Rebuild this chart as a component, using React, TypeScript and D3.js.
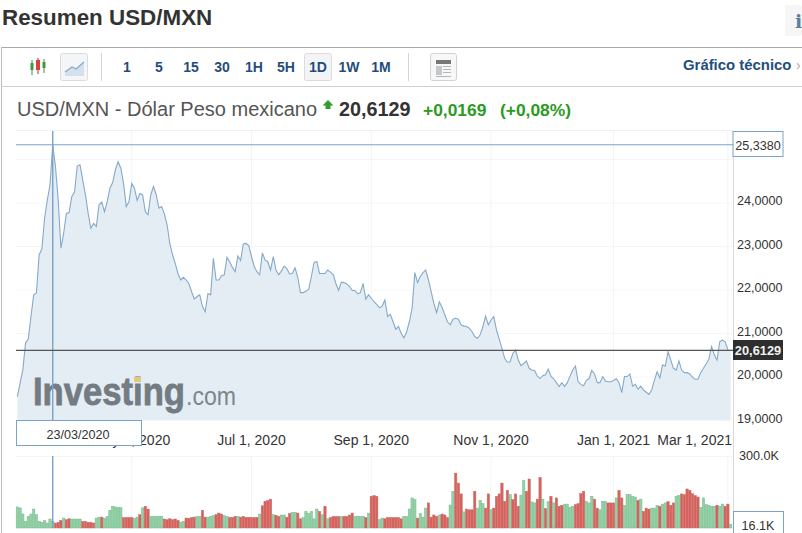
import * as d3 from 'd3'

const closes = [
  19.55, 19.86, 20.16, 20.78, 20.87, 21.39, 21.89, 21.93, 22.81, 22.94,
  23.65, 24.07, 24.42, 25.338, 24.84, 24.07, 22.96, 23.3, 23.76, 23.78,
  24.15, 24.25, 24.85, 24.88, 24.53, 24.19, 23.76, 23.42, 23.53, 23.46,
  23.96, 24.02, 23.8, 24.03, 24.34, 24.47, 24.76, 24.95, 24.8, 24.45,
  23.92, 24.03, 24.45, 24.34, 24.06, 24.22, 24.19, 23.8, 23.73, 24.19,
  24.38, 24.19, 23.88, 23.92, 23.75, 23.5, 23.07, 22.81, 22.61, 22.38,
  22.23, 22.29, 22.23, 22.15, 21.96, 21.79, 21.85, 21.89, 21.62, 21.5,
  21.92, 21.89, 22.73, 22.23, 22.23, 22.33, 22.35, 22.75, 22.65, 22.52,
  22.42, 22.78, 22.68, 23.06, 23.07, 23.02, 22.77, 22.54, 22.42, 22.35,
  22.85, 22.69, 22.65, 22.46, 22.77, 22.46, 22.35, 22.44, 22.55, 22.49,
  22.37, 22.38, 22.51, 22.29, 21.94, 21.94, 21.97, 22.02, 22.31, 22.64,
  22.65, 22.38, 22.38, 22.38, 22.46, 22.41, 22.36, 22.15, 21.99, 22.18,
  22.17, 22.14, 22.08, 21.99, 21.99, 21.91, 21.94, 22.15, 21.79, 21.89,
  21.81, 21.73, 21.67, 21.59, 21.63, 21.77, 21.39, 21.44, 21.27, 21.1,
  21.16, 21.0, 20.9, 21.04, 21.27, 21.58, 22.4, 22.17, 22.31, 22.4,
  22.46, 22.23, 21.96, 21.69, 21.48, 21.73, 21.6, 21.43, 21.27, 21.2,
  21.33, 21.35, 21.33, 21.2, 21.17, 21.16, 21.12, 21.04, 20.93, 20.89,
  20.97, 21.16, 21.4, 21.2, 21.31, 21.39, 21.08, 20.87, 20.66, 20.43,
  20.34, 20.35, 20.54, 20.62, 20.39, 20.26, 20.31, 20.37, 20.2, 20.16,
  20.15, 20.02, 19.97, 20.03, 20.05, 20.18, 20.02, 19.96, 19.87, 19.78,
  19.87, 19.78, 19.87, 20.02, 20.16, 20.25, 19.89, 19.83, 19.8, 19.93,
  19.96, 20.15, 20.07, 19.87, 19.87, 20.01, 19.91, 19.89, 19.89, 19.92,
  19.96, 19.87, 19.64, 20.01, 20.01, 20.07, 19.79, 19.83, 19.72, 19.79,
  19.7, 19.65, 19.6, 19.7, 19.93, 20.12, 19.98, 20.28, 20.25, 20.58,
  20.39, 20.2, 20.16, 20.37, 20.16, 20.1, 20.1, 20.07, 19.99, 19.95,
  19.95, 20.1, 20.2, 20.3, 20.41, 20.7, 20.51, 20.39, 20.81, 20.85,
  20.81, 20.62, 20.6129,
]

// thousands, positive = green day, negative = red day
const volumes = [
  89, 85, 59, 28, 49, 59, 80, 56, 28, 24,
  31, 21, 38, 28, -21, -24, -32, 42, -35, -39,
  38, 38, 38, 38, -27, -28, -24, -24, -21, 42,
  46, -46, 42, 49, 75, 92, 89, 86, 86, -44,
  -44, -44, -44, 41, 46, -56, 85, -92, -80, 49,
  49, 49, 49, 49, -38, -35, -39, -35, -38, -32,
  25, 28, -42, -41, -44, -46, 49, 49, -75, -46,
  46, 49, 52, -56, -63, -59, 52, 49, -44, -45,
  -49, 49, -46, -49, -45, -45, -45, -44, -45, 59,
  -94, -113, -116, -122, 56, -54, -49, 55, 55, -45,
  -61, 66, 66, -63, -39, 44, 70, 61, 70, 39,
  80, -70, 56, -92, 39, -44, -48, -48, -48, 48,
  -49, -49, -55, -63, 49, 49, 49, 49, -44, 63,
  -134, -137, -134, 35, 42, -39, -44, -44, -44, -44,
  -44, -39, 49, 48, 80, 127, 120, -42, 61, 46,
  84, -106, -46, -55, -49, 55, -59, -55, -44, 97,
  155, -232, -190, -144, 68, -80, -77, -77, -155, 84,
  117, 103, -84, -144, 77, -84, -134, -144, -190, -113,
  -159, 141, -120, -144, -92, 139, 201, -155, -207, 110,
  106, -122, -214, 122, -82, 111, -134, 106, -127, -92,
  -96, 101, 101, 87, 92, -99, -103, -145, -155, 113,
  106, 134, -122, -84, 77, 113, 113, -106, -106, -106,
  127, -159, -127, 96, 141, 141, 134, 131, -117, 122,
  -70, -84, -80, 84, 84, 96, -92, 101, 106, -111,
  -96, -106, 134, 137, -144, -141, -165, -159, -145, -137,
  -131, 87, 127, 99, 96, 92, 92, -96, 92, 101,
  -92, -101, 16.1,
]

const priceTicks = [19, 20, 21, 22, 23, 24]
const dateTickIndex = [42, 86, 130, 174, 219, 261]
const dateTickLabels = ['May 1, 2020', 'Jul 1, 2020', 'Sep 1, 2020', 'Nov 1, 2020', 'Jan 1, 2021', 'Mar 1, 2021']
const intervals = ['1', '5', '15', '30', '1H', '5H', '1D', '1W', '1M']
const intervalX = [127, 159, 191, 222, 254, 286, 318, 349, 381]
const crossIndex = 13
const crossDate = '23/03/2020'
const crossPrice = 25.338
const lastPrice = 20.6129

const FONT = 'Arial, "Liberation Sans", sans-serif'
const BLUE = '#1f4e7d'
const LINE = '#86a9c9'
const CROSS = '#7aa2cb'

const fmt4 = (v: number) => v.toFixed(4).replace('.', ',')

export default function App() {
  const x = d3
    .scaleBand<number>()
    .domain(d3.range(closes.length))
    .range([16, 732])
    .paddingInner(0.14)
    .paddingOuter(0.07)
  const cx = (i: number) => (x(i) ?? 0) + x.bandwidth() / 2

  const y = d3.scaleLinear().domain([19, 24]).range([420.5, 203])
  const yVol = d3.scaleLinear().domain([0, 300]).range([528, 457])

  const line = d3
    .line<number>()
    .x((_, i) => cx(i))
    .y((d) => y(d))
  const area = d3
    .area<number>()
    .x((_, i) => cx(i))
    .y0(y(19))
    .y1((d) => y(d))

  return (
    <svg
      width={802}
      height={533}
      style={{ position: 'absolute', left: 0, top: 0, background: '#fff' }}
      fontFamily={FONT}
    >
      {/* page title and info tab */}
      <text x={2} y={25} fontSize={22.4} fontWeight={700} fill="#333">
        Resumen USD/MXN
      </text>
      <rect x={785} y={5} width={17} height={31} rx={2} fill="#f6f6f6" />
      <text x={795} y={28} fontSize={19} fontWeight={700} fontFamily="DejaVu Serif, serif" fill="#5b7f9e">
        i
      </text>

      {/* panel frame */}
      <line x1={1} x2={802} y1={47.5} y2={47.5} stroke="#a9a9a9" />
      <line x1={1.5} x2={1.5} y1={47} y2={533} stroke="#bdbdbd" />
      <line x1={1} x2={802} y1={86.5} y2={86.5} stroke="#cfcfcf" />
      <line x1={101.5} x2={101.5} y1={53} y2={81} stroke="#d5d5d5" />
      <line x1={408.5} x2={408.5} y1={53} y2={81} stroke="#d5d5d5" />

      {/* candlestick icon */}
      <g>
        <line x1={32} x2={32} y1={60} y2={75} stroke="#3a8f3a" />
        <rect x={30.5} y={63} width={3} height={7} fill="#3c9c3c" />
        <line x1={38} x2={38} y1={58} y2={74} stroke="#a33" />
        <rect x={36} y={60} width={4} height={10} fill="#d84040" />
        <line x1={44} x2={44} y1={59} y2={73} stroke="#3a8f3a" />
        <rect x={42.5} y={62} width={3} height={6} fill="#3c9c3c" />
      </g>

      {/* line chart button */}
      <rect x={60.5} y={53.5} width={27} height={27} rx={2} fill="#f3f5f8" stroke="#dcdcdc" />
      <path d="M65 72 L72 67 L76 69 L84 62 L84 76 L65 76 Z" fill="#d5e0ec" />
      <path d="M65 72 L72 67 L76 69 L84 62" fill="none" stroke="#8aa9c6" strokeWidth={1.3} />

      {/* interval buttons */}
      <rect x={304.5} y={53.5} width={27} height={27} rx={2} fill="#f3f4f6" stroke="#dcdcdc" />
      {intervals.map((t, i) => (
        <text key={t} x={intervalX[i]} y={72} textAnchor="middle" fontSize={14} fontWeight={700} fill={BLUE}>
          {t}
        </text>
      ))}

      {/* news button */}
      <rect x={430.5} y={53.5} width={26} height={27} rx={2} fill="#f7f7f7" stroke="#d2d2d2" />
      <rect x={436} y={60} width={15} height={4} fill="#777" />
      <rect x={436} y={66} width={6} height={9} fill="#c3c8cc" />
      <path d="M443 66.5H451M443 69.5H451M443 72.5H451M436 76.5H451" stroke="#b5b5b5" />

      <text x={683} y={70} fontSize={14.9} fontWeight={700} fill={BLUE}>
        Gráfico técnico
      </text>
      <text x={796} y={70} fontSize={14} fill="#aaa">
        ›
      </text>

      {/* quote line */}
      <text x={17} y={116} fontSize={20} fill="#555">
        USD/MXN - Dólar Peso mexicano
      </text>
      <path d="M328 100 L333.5 105.5 L330.5 105.5 L330.5 109 L325.5 109 L325.5 105.5 L322.5 105.5 Z" fill="#2f9e2f" />
      <text x={339} y={116} fontSize={19.8} fontWeight={700} fill="#333">
        20,6129
      </text>
      <text x={423} y={116} fontSize={17.4} fontWeight={700} fill="#2b9a22">
        +0,0169
      </text>
      <text x={500} y={116} fontSize={17.4} fontWeight={700} fill="#2b9a22">
        (+0,08%)
      </text>

      {/* grid */}
      <line x1={16} x2={733} y1={130.5} y2={130.5} stroke="#f0f0f0" />
      {priceTicks.slice(1).concat(25).map((t) => (
        <line key={t} x1={16} x2={733} y1={y(t)} y2={y(t)} stroke="#f6f6f6" />
      ))}
      {dateTickIndex.map((i) => (
        <g key={i}>
          <line x1={cx(i)} x2={cx(i)} y1={131} y2={420} stroke="#f4f4f4" />
          <line x1={cx(i)} x2={cx(i)} y1={456} y2={528} stroke="#f4f4f4" />
        </g>
      ))}
      <line x1={16} x2={733} y1={456.5} y2={456.5} stroke="#f4f4f4" />

      {/* price */}
      <path d={area(closes) ?? ''} fill="#e4edf4" />
      <path d={line(closes) ?? ''} fill="none" stroke={LINE} strokeWidth={1.1} />

      {/* watermark */}
      <text
        x={33}
        y={405}
        fontSize={38}
        fontWeight={700}
        fill="#737b83"
        stroke="#737b83"
        strokeWidth={0.8}
        textLength={152}
        lengthAdjust="spacingAndGlyphs"
      >
        Investing
      </text>
      <text x={186} y={405} fontSize={26} fill="#7d858c" textLength={50} lengthAdjust="spacingAndGlyphs">
        .com
      </text>
      <rect x={134} y={377} width={7} height={5} fill="#e2c878" />

      {/* volume */}
      {volumes.map((v, i) => (
        <rect
          key={i}
          x={x(i)}
          y={yVol(Math.abs(v))}
          width={x.bandwidth()}
          height={yVol(0) - yVol(Math.abs(v))}
          fill={v > 0 ? '#93d2a6' : '#d9605c'}
          stroke={v > 0 ? '#74b98c' : '#c96a62'}
          strokeWidth={0.5}
        />
      ))}

      {/* axis */}
      <line x1={733.5} x2={733.5} y1={131} y2={533} stroke="#d8d8d8" />
      {priceTicks.map((t) => (
        <text key={t} x={737} y={y(t) + 2} fontSize={12.6} fill="#333">
          {fmt4(t)}
        </text>
      ))}
      {dateTickLabels.map((t, i) => (
        <text
          key={t}
          x={i === dateTickLabels.length - 1 ? 732 : cx(dateTickIndex[i])}
          y={445}
          textAnchor={i === dateTickLabels.length - 1 ? 'end' : 'middle'}
          fontSize={14}
          fill="#333"
        >
          {t}
        </text>
      ))}
      <text x={739} y={460} fontSize={12.6} fill="#333">
        300.0K
      </text>

      {/* crosshair */}
      <line x1={cx(crossIndex)} x2={cx(crossIndex)} y1={131} y2={420} stroke={CROSS} strokeWidth={1.4} />
      <line x1={cx(crossIndex)} x2={cx(crossIndex)} y1={456} y2={528} stroke={CROSS} strokeWidth={1.4} />
      <line x1={16} x2={733} y1={y(crossPrice)} y2={y(crossPrice)} stroke={CROSS} strokeWidth={1.1} />
      <rect x={733} y={131.5} width={50} height={25} fill="#fff" stroke={CROSS} />
      <text x={758} y={149.5} textAnchor="middle" fontSize={12.6} fill="#333">
        {fmt4(crossPrice)}
      </text>
      <rect x={16.5} y={420.5} width={125} height={25} fill="#fff" stroke={CROSS} />
      <text x={78} y={439} textAnchor="middle" fontSize={12.6} fill="#333">
        {crossDate}
      </text>

      {/* last price */}
      <line x1={16} x2={733} y1={y(lastPrice)} y2={y(lastPrice)} stroke="#555" strokeWidth={1.4} />
      <rect x={733} y={340} width={50} height={20} fill="#2e2e2e" />
      <text x={758} y={354.5} textAnchor="middle" fontSize={12.8} fontWeight={700} fill="#f2f2f2">
        {lastPrice.toFixed(4).replace('.', ',')}
      </text>

      {/* last volume */}
      <rect x={733.5} y={511.5} width={50} height={30} fill="#fff" stroke={CROSS} />
      <text x={758} y={530} textAnchor="middle" fontSize={12.6} fill="#333">
        16.1K
      </text>
    </svg>
  )
}
